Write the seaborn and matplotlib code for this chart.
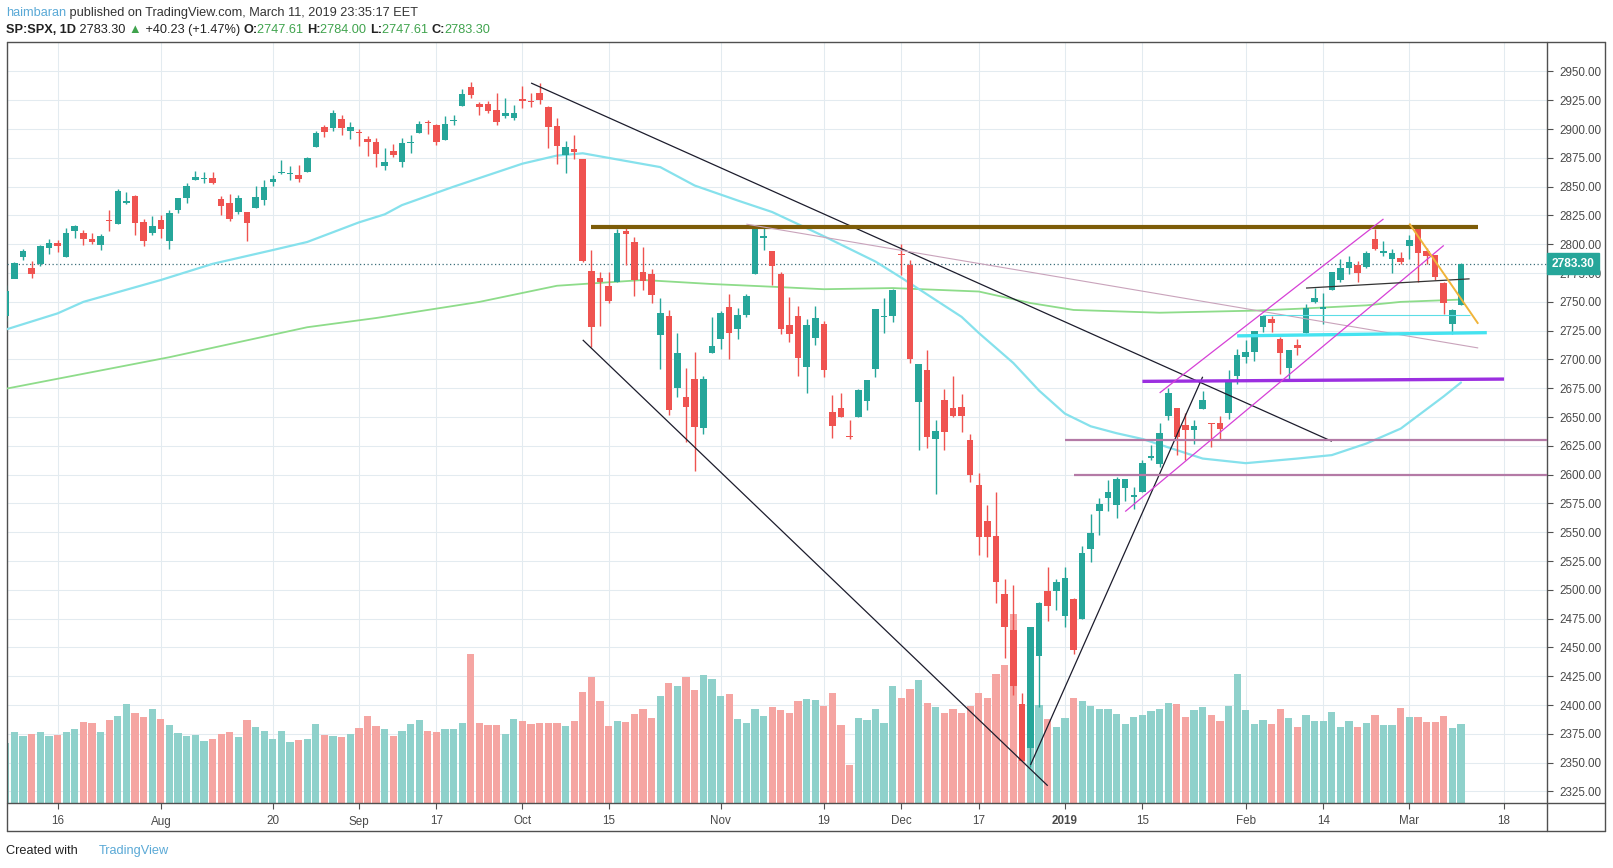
import pandas as pd
import matplotlib
matplotlib.use("Agg")
import matplotlib.pyplot as plt
import seaborn as sns
from matplotlib.lines import Line2D

# =========================
# DATA (read off the SP:SPX daily chart)
# =========================
holidays = ["2018-09-03", "2018-11-22", "2018-12-05", "2018-12-25",
            "2019-01-01", "2019-01-21", "2019-02-18"]
sessions = [d.strftime("%Y-%m-%d") for d in pd.bdate_range("2018-07-06", "2019-03-29")
            if d.strftime("%Y-%m-%d") not in holidays]

opens = [2737.68, 2770.00, 2788.56, 2779.82, 2783.14, 2796.93, 2801.50, 2789.34, 2811.35, 2809.37,
         2804.55, 2799.17, 2820.68, 2817.73, 2835.49, 2842.35, 2819.00, 2809.73, 2821.17, 2802.60,
         2829.62, 2840.29, 2855.92, 2856.79, 2857.19, 2838.90, 2835.46, 2827.88, 2827.95, 2831.44,
         2838.32, 2853.93, 2861.51, 2860.99, 2860.29, 2862.35, 2884.69, 2901.45, 2900.62, 2908.94,
         2898.37, 2896.96, 2891.59, 2888.64, 2868.26, 2881.39, 2871.57, 2888.29, 2896.85, 2906.38,
         2903.83, 2890.74, 2906.60, 2919.73, 2936.76, 2921.83, 2921.75, 2916.98, 2911.65, 2910.03,
         2926.29, 2923.80, 2931.69, 2919.35, 2902.54, 2877.53, 2882.51, 2873.90, 2776.87, 2770.54,
         2763.83, 2767.05, 2811.67, 2802.00, 2775.66, 2773.94, 2721.03, 2737.87, 2674.88, 2667.86,
         2682.65, 2640.68, 2705.60, 2717.58, 2745.45, 2726.37, 2738.40, 2774.13, 2805.50, 2794.10,
         2773.93, 2730.05, 2737.90, 2693.52, 2718.54, 2730.74, 2654.60, 2657.74, 2633.36, 2649.97,
         2663.75, 2691.45, 2736.97, 2737.76, 2790.50, 2782.43, 2663.51, 2691.26, 2630.86, 2664.44,
         2658.23, 2658.70, 2629.68, 2590.75, 2559.90, 2547.05, 2496.77, 2465.38, 2400.56, 2363.12,
         2442.50, 2498.77, 2498.94, 2476.96, 2491.92, 2474.33, 2535.61, 2568.11, 2580.00, 2573.51,
         2588.11, 2580.31, 2585.10, 2614.75, 2609.28, 2651.27, 2657.88, 2643.48, 2638.84, 2657.44,
         2644.97, 2644.89, 2653.62, 2685.49, 2702.32, 2706.49, 2728.34, 2735.05, 2717.53, 2692.36,
         2712.40, 2722.61, 2750.30, 2743.50, 2760.24, 2769.28, 2779.05, 2781.74, 2780.67, 2804.35,
         2792.36, 2787.50, 2788.11, 2798.22, 2814.37, 2794.41, 2790.27, 2766.53, 2730.79, 2747.61]
highs = [2764.41, 2784.65, 2795.58, 2785.91, 2799.22, 2804.53, 2803.94, 2814.19, 2816.76, 2812.05,
         2809.70, 2808.61, 2829.99, 2848.03, 2845.57, 2843.17, 2821.74, 2824.46, 2825.83, 2829.91,
         2840.38, 2853.29, 2863.43, 2862.44, 2862.48, 2842.20, 2843.40, 2843.11, 2827.95, 2850.49,
         2855.63, 2859.76, 2873.23, 2867.54, 2868.78, 2876.16, 2898.25, 2903.77, 2916.50, 2912.46,
         2906.32, 2900.18, 2894.21, 2892.05, 2883.81, 2886.93, 2892.52, 2894.65, 2906.76, 2908.30,
         2904.65, 2911.17, 2912.36, 2934.80, 2940.91, 2923.79, 2923.95, 2931.15, 2927.22, 2920.53,
         2937.06, 2931.42, 2939.86, 2919.78, 2909.64, 2889.45, 2894.83, 2874.02, 2795.14, 2775.77,
         2775.99, 2813.46, 2816.94, 2806.04, 2797.77, 2778.94, 2753.59, 2742.59, 2722.70, 2692.38,
         2706.85, 2685.43, 2736.69, 2741.67, 2756.55, 2744.27, 2756.82, 2815.15, 2814.75, 2794.10,
         2775.99, 2754.60, 2746.80, 2735.38, 2746.75, 2733.16, 2669.44, 2670.73, 2647.55, 2674.35,
         2682.53, 2744.00, 2753.75, 2760.88, 2800.18, 2785.93, 2696.15, 2708.54, 2647.51, 2674.35,
         2685.44, 2670.19, 2635.07, 2601.13, 2573.99, 2585.29, 2509.63, 2504.41, 2410.34, 2467.76,
         2489.10, 2520.27, 2509.24, 2519.49, 2493.14, 2538.07, 2566.16, 2579.82, 2595.32, 2597.82,
         2596.27, 2589.32, 2613.08, 2625.76, 2645.06, 2675.47, 2657.88, 2653.19, 2647.20, 2672.38,
         2644.97, 2650.93, 2690.44, 2708.95, 2716.66, 2724.99, 2738.98, 2738.08, 2719.32, 2708.07,
         2718.05, 2748.19, 2761.85, 2757.90, 2775.66, 2787.33, 2789.88, 2785.46, 2794.20, 2813.49,
         2803.12, 2795.76, 2793.73, 2808.02, 2816.88, 2796.44, 2790.27, 2767.25, 2744.13, 2784.00]
lows = [2733.52, 2770.73, 2786.24, 2770.77, 2781.53, 2791.69, 2793.39, 2789.24, 2805.89, 2799.77,
        2800.01, 2795.14, 2811.12, 2817.73, 2835.26, 2808.34, 2798.11, 2808.06, 2805.85, 2796.34,
        2827.37, 2835.98, 2855.92, 2853.09, 2851.98, 2825.81, 2819.88, 2826.58, 2802.49, 2831.44,
        2833.73, 2850.62, 2861.32, 2856.05, 2854.03, 2862.35, 2884.69, 2893.50, 2898.40, 2895.22,
        2891.73, 2885.13, 2876.92, 2867.29, 2864.12, 2875.94, 2866.78, 2879.20, 2896.39, 2895.77,
        2886.16, 2890.43, 2903.82, 2919.73, 2927.11, 2912.63, 2913.70, 2903.28, 2909.27, 2907.50,
        2917.91, 2919.37, 2921.36, 2883.92, 2869.29, 2862.08, 2874.27, 2784.86, 2710.51, 2729.44,
        2749.03, 2766.91, 2781.81, 2755.18, 2760.27, 2749.22, 2691.43, 2651.89, 2667.84, 2628.16,
        2603.54, 2635.34, 2705.60, 2708.85, 2700.44, 2717.94, 2737.08, 2774.13, 2794.99, 2764.24,
        2722.00, 2714.98, 2685.75, 2670.75, 2712.16, 2684.45, 2631.52, 2649.82, 2631.09, 2649.97,
        2655.89, 2684.38, 2722.94, 2732.76, 2773.38, 2697.18, 2621.53, 2623.14, 2583.23, 2621.30,
        2650.26, 2637.27, 2593.84, 2530.54, 2528.71, 2488.96, 2441.18, 2408.55, 2351.10, 2346.58,
        2397.94, 2472.89, 2482.82, 2467.47, 2443.96, 2474.33, 2524.56, 2547.56, 2568.89, 2562.02,
        2577.40, 2570.41, 2585.10, 2612.68, 2606.36, 2647.58, 2617.27, 2612.86, 2627.01, 2657.33,
        2624.06, 2631.05, 2648.34, 2678.65, 2696.88, 2698.75, 2724.03, 2724.15, 2687.26, 2681.83,
        2703.79, 2722.61, 2748.63, 2731.23, 2760.24, 2767.29, 2774.06, 2767.40, 2779.11, 2794.99,
        2789.47, 2775.13, 2782.51, 2787.38, 2767.66, 2782.97, 2768.69, 2739.09, 2722.27, 2747.61]
closes = [2759.82, 2784.17, 2793.84, 2774.02, 2798.29, 2801.31, 2798.43, 2809.55, 2815.62, 2804.49,
          2801.83, 2806.98, 2820.40, 2846.07, 2837.44, 2818.82, 2802.60, 2816.29, 2813.36, 2827.22,
          2840.35, 2850.40, 2858.45, 2857.70, 2853.58, 2833.28, 2821.93, 2839.96, 2818.37, 2840.69,
          2850.13, 2857.05, 2862.96, 2861.82, 2856.98, 2874.69, 2896.74, 2897.52, 2914.04, 2901.13,
          2901.52, 2896.72, 2888.60, 2878.05, 2871.68, 2877.13, 2887.89, 2888.92, 2904.18, 2904.98,
          2888.80, 2904.31, 2907.95, 2930.75, 2929.67, 2919.37, 2915.56, 2905.97, 2914.00, 2913.98,
          2924.59, 2923.43, 2925.51, 2901.61, 2885.57, 2884.43, 2880.34, 2785.68, 2728.37, 2767.13,
          2750.79, 2809.92, 2809.21, 2768.78, 2767.78, 2755.88, 2740.69, 2656.10, 2705.57, 2658.69,
          2641.25, 2682.63, 2711.74, 2740.37, 2723.06, 2738.31, 2755.45, 2813.89, 2806.83, 2781.01,
          2726.22, 2722.18, 2701.58, 2730.20, 2736.27, 2690.73, 2641.89, 2649.93, 2632.56, 2673.45,
          2682.17, 2743.79, 2737.80, 2760.17, 2790.37, 2700.06, 2695.95, 2633.08, 2637.72, 2636.78,
          2651.07, 2650.54, 2599.95, 2545.94, 2546.16, 2506.96, 2467.42, 2416.62, 2351.10, 2467.70,
          2488.83, 2485.74, 2506.85, 2510.03, 2447.89, 2531.94, 2549.69, 2574.41, 2584.96, 2596.64,
          2596.26, 2582.61, 2610.30, 2616.10, 2635.96, 2670.71, 2632.90, 2638.70, 2642.33, 2664.76,
          2643.85, 2640.00, 2681.05, 2704.10, 2706.53, 2724.87, 2737.70, 2731.61, 2706.05, 2707.88,
          2709.80, 2744.73, 2753.03, 2745.73, 2775.60, 2779.76, 2784.70, 2774.88, 2792.67, 2796.11,
          2793.90, 2792.38, 2784.49, 2803.69, 2792.81, 2789.65, 2771.45, 2748.93, 2743.07, 2783.30]
# volume, in units of bar height
volumes = [60, 71, 67, 69, 71, 67, 68, 71, 74, 81, 80, 71, 83, 87, 99, 90, 86, 94, 84, 78,
           70, 67, 68, 62, 64, 69, 71, 66, 83, 76, 72, 64, 72, 61, 63, 64, 79, 68, 67, 66,
           69, 75, 87, 77, 74, 67, 72, 79, 83, 72, 71, 74, 74, 80, 149, 80, 78, 78, 69, 84,
           82, 79, 80, 80, 80, 77, 82, 111, 126, 102, 77, 82, 81, 89, 94, 85, 107, 120, 117, 126,
           113, 128, 124, 107, 109, 84, 80, 94, 87, 96, 93, 90, 102, 104, 103, 97, 110, 78, 38, 85,
           83, 94, 80, 117, 105, 114, 123, 100, 96, 90, 94, 90, 97, 110, 105, 129, 138, 189, 46, 98,
           98, 84, 76, 85, 105, 102, 97, 94, 94, 89, 79, 86, 88, 92, 94, 100, 99, 86, 93, 96,
           88, 82, 97, 129, 93, 79, 83, 79, 94, 85, 76, 88, 82, 82, 91, 76, 82, 76, 80, 88,
           78, 78, 95, 86, 86, 81, 81, 87, 75, 79]

# moving averages (read at sample sessions)
ma50_dates = ["2018-07-06", "2018-07-16", "2018-07-19", "2018-08-01", "2018-08-09", "2018-08-20",
              "2018-08-24", "2018-09-04", "2018-09-07", "2018-09-11", "2018-09-19", "2018-10-01",
              "2018-10-05", "2018-10-10", "2018-10-15", "2018-10-23", "2018-10-29", "2018-11-05",
              "2018-11-09", "2018-11-19", "2018-11-28", "2018-12-03", "2018-12-13", "2018-12-17",
              "2018-12-21", "2018-12-27", "2019-01-02", "2019-01-07", "2019-01-10", "2019-01-15",
              "2019-01-25", "2019-02-01", "2019-02-11", "2019-02-15", "2019-02-22", "2019-02-28",
              "2019-03-07", "2019-03-11"]
ma50_values = [2726, 2740, 2750, 2769, 2783, 2795, 2802, 2819, 2826, 2834, 2850, 2870,
               2877, 2879, 2875, 2867, 2851, 2838, 2828, 2807, 2785, 2771, 2737, 2723,
               2697, 2673, 2653, 2642, 2636, 2631, 2614, 2610, 2614, 2617, 2627, 2640,
               2668, 2680]
ma200_dates = ["2018-07-06", "2018-08-02", "2018-08-24", "2018-09-06", "2018-09-24", "2018-10-05",
               "2018-10-11", "2018-10-19", "2018-10-31", "2018-11-08", "2018-11-19", "2018-11-30",
               "2018-12-17", "2018-12-26", "2019-01-03", "2019-01-17", "2019-02-04", "2019-02-11",
               "2019-02-22", "2019-02-28", "2019-03-11"]
ma200_values = [2674.6, 2702, 2728, 2736, 2750, 2764, 2766, 2769, 2765.5, 2763.5, 2761, 2762,
                2759, 2749, 2743, 2740.6, 2742.4, 2744, 2747, 2750, 2752]

# hand-drawn trend lines: start / end session and price
line_start_dates = ["2018-10-02", "2018-10-10", "2018-12-26", "2018-10-11", "2018-11-06",
                    "2019-01-15", "2019-01-31", "2019-02-05", "2019-01-02", "2019-01-03",
                    "2019-01-17", "2019-01-11", "2019-02-12", "2019-03-01"]
line_start_prices = [2940, 2717, 2348, 2815, 2817.5, 2681, 2720.5, 2739, 2630.5, 2600,
                     2671, 2568, 2762, 2818]
line_end_dates = ["2019-02-15", "2018-12-28", "2019-01-25", "2019-03-13", "2019-03-13",
                  "2019-03-18", "2019-03-14", "2019-03-12", "2019-03-27", "2019-03-27",
                  "2019-02-26", "2019-03-07", "2019-03-12", "2019-03-13"]
line_end_prices = [2629, 2330, 2685, 2815, 2710, 2683, 2723.3, 2739, 2630.5, 2600,
                   2822, 2799, 2770, 2731]

tick_dates = ["2018-07-16", "2018-08-01", "2018-08-20", "2018-09-04", "2018-09-17", "2018-10-01",
              "2018-10-15", "2018-11-01", "2018-11-19", "2018-12-03", "2018-12-17", "2019-01-02",
              "2019-01-15", "2019-02-01", "2019-02-14", "2019-03-01", "2019-03-18"]
tick_labels = ["16", "Aug", "20", "Sep", "17", "Oct", "15", "Nov", "19", "Dec", "17", "2019",
               "15", "Feb", "14", "Mar", "18"]
price_ticks = list(range(2325, 2951, 25))

# =========================
# STYLE / LAYOUT
# =========================
sns.set_theme(style="white")
plt.rcParams["font.family"] = ["Liberation Sans", "DejaVu Sans"]

W, H = 1613, 868
UP, DOWN = "#26a69a", "#ef5350"
VOL_UP, VOL_DOWN = "#8fd1cb", "#f5a5a2"
GRID = "#e3ebf0"
FRAME = "#505050"
TXT = "#4a4a4a"

pos = {d: i for i, d in enumerate(sessions)}
n = len(closes)
xs = list(range(n))

fig = plt.figure(figsize=(W / 100, H / 100), dpi=100)
fig.patch.set_facecolor("white")

rect = [7 / W, 1 - 803 / H, 1540 / W, (803 - 42) / H]
axv = fig.add_axes(rect)            # volume, underneath
ax = fig.add_axes(rect, sharex=axv)  # prices on top
ax.set_zorder(2)
ax.patch.set_visible(False)

# volume bars
vol_colors = [VOL_UP if c >= o else VOL_DOWN for o, c in zip(opens, closes)]
axv.bar(xs, volumes, width=0.84, color=vol_colors, linewidth=0)
axv.set_ylim(0, 761)
axv.set_yticks([])
axv.tick_params(axis="x", bottom=False, labelbottom=False)
for s in axv.spines.values():
    s.set_visible(False)

# grid
for v in price_ticks:
    axv.axhline((v - 2315.0) * 1.152, color=GRID, lw=0.75, zorder=0)
for d in tick_dates:
    axv.axvline(pos[d], color=GRID, lw=0.75, zorder=0)

# moving averages
sns.lineplot(x=[pos[d] for d in ma200_dates], y=ma200_values, ax=ax, color="#8edc8a",
             lw=1.3, zorder=2, sort=False)
sns.lineplot(x=[pos[d] for d in ma50_dates], y=ma50_values, ax=ax, color="#86e1ec",
             lw=1.6, zorder=2, sort=False)

# candles
colors = [UP if c >= o else DOWN for o, c in zip(opens, closes)]
ax.vlines(xs, lows, highs, colors=colors, lw=1.0, zorder=3)
bodies = [max(abs(c - o), 0.9) for o, c in zip(opens, closes)]
bottoms = [min(o, c) for o, c in zip(opens, closes)]
ax.bar(xs, bodies, bottom=bottoms, width=0.76, color=colors, linewidth=0, zorder=4)

# trend lines
line_colors = ["#1c1c2c", "#1c1c2c", "#1c1c2c", "#7d5c08", "#c9a3bb", "#9b2fe0", "#45e3f0",
               "#5cdde6", "#b47aa6", "#b47aa6", "#d640d6", "#d640d6", "#333333", "#f0b43a"]
line_widths = [0.9, 0.9, 0.9, 3.0, 0.8, 2.4, 2.4, 0.8, 1.6, 1.6, 0.9, 0.9, 0.9, 1.4]
for i in range(len(line_start_dates)):
    ax.plot([pos[line_start_dates[i]], pos[line_end_dates[i]]],
            [line_start_prices[i], line_end_prices[i]],
            color=line_colors[i], lw=line_widths[i], zorder=5, solid_capstyle="butt")

# last price dotted line + label
last = closes[-1]
ax.axhline(last, color="#3c6f7a", lw=0.9, ls=(0, (1, 2)), zorder=1)
ax.text(1.003, last, f"{last:.2f}", transform=ax.get_yaxis_transform(), ha="left", va="center",
        color="white", fontsize=8.6, fontweight="bold", zorder=10, clip_on=False,
        bbox=dict(boxstyle="square,pad=0.36", fc=UP, ec=UP))

# axes
ax.set_xlim(0.13, 178.99)
ax.set_ylim(2315.0, 2975.6)
ax.set_yticks(price_ticks)
ax.set_yticklabels([f"{v:.2f}" for v in price_ticks])
ax.yaxis.tick_right()
ax.set_xticks([pos[d] for d in tick_dates])
ax.set_xticklabels(tick_labels)
ax.tick_params(axis="both", direction="out", length=4, width=0.8, color=FRAME,
               labelcolor=TXT, labelsize=8.4, pad=5)
ax.tick_params(axis="y", right=True, left=False)
ax.tick_params(axis="x", bottom=True)
for lab in ax.get_xticklabels():
    if lab.get_text() == "2019":
        lab.set_fontweight("bold")
for s in ax.spines.values():
    s.set_visible(False)
ax.set_xlabel("")
ax.set_ylabel("")
ax.grid(False)

# frame lines (TradingView chart box)
def hline(y, x0, x1):
    fig.add_artist(Line2D([x0 / W, x1 / W], [1 - y / H, 1 - y / H], color=FRAME, lw=1.0))

def vline(x, y0, y1):
    fig.add_artist(Line2D([x / W, x / W], [1 - y0 / H, 1 - y1 / H], color=FRAME, lw=1.0))

hline(42, 7, 1605)
hline(803, 7, 1605)
hline(831, 7, 1605)
vline(7, 42, 831)
vline(1547, 42, 831)
vline(1605, 42, 831)

# header / footer text
renderer = fig.canvas.get_renderer()

def write_row(parts, x_px, y_px, size):
    x = x_px
    for s, color, weight in parts:
        t = fig.text(x / W, 1 - y_px / H, s, color=color, fontweight=weight, fontsize=size,
                     ha="left", va="center")
        x += t.get_window_extent(renderer=renderer).width

GREEN = "#3fa34d"
write_row([("haimbaran", "#5aa9d6", "normal"),
           (" published on TradingView.com, March 11, 2019 23:35:17 EET", "#333333", "normal")],
          6, 13, 9.2)
write_row([("SP:SPX, 1D", "#222222", "bold"), (" 2783.30 ", "#222222", "normal"),
           ("\u25b2", GREEN, "normal"), (" +40.23 (+1.47%) ", "#222222", "normal"),
           ("O:", "#222222", "bold"), ("2747.61 ", GREEN, "normal"),
           ("H:", "#222222", "bold"), ("2784.00 ", GREEN, "normal"),
           ("L:", "#222222", "bold"), ("2747.61 ", GREEN, "normal"),
           ("C:", "#222222", "bold"), ("2783.30", GREEN, "normal")],
          6, 30, 9.2)
write_row([("Created with ", "#222222", "normal"), ("     ", "#222222", "normal"),
           ("TradingView", "#5aa9d6", "normal")], 6, 851, 9.2)

fig.savefig("out.png", dpi=100)
